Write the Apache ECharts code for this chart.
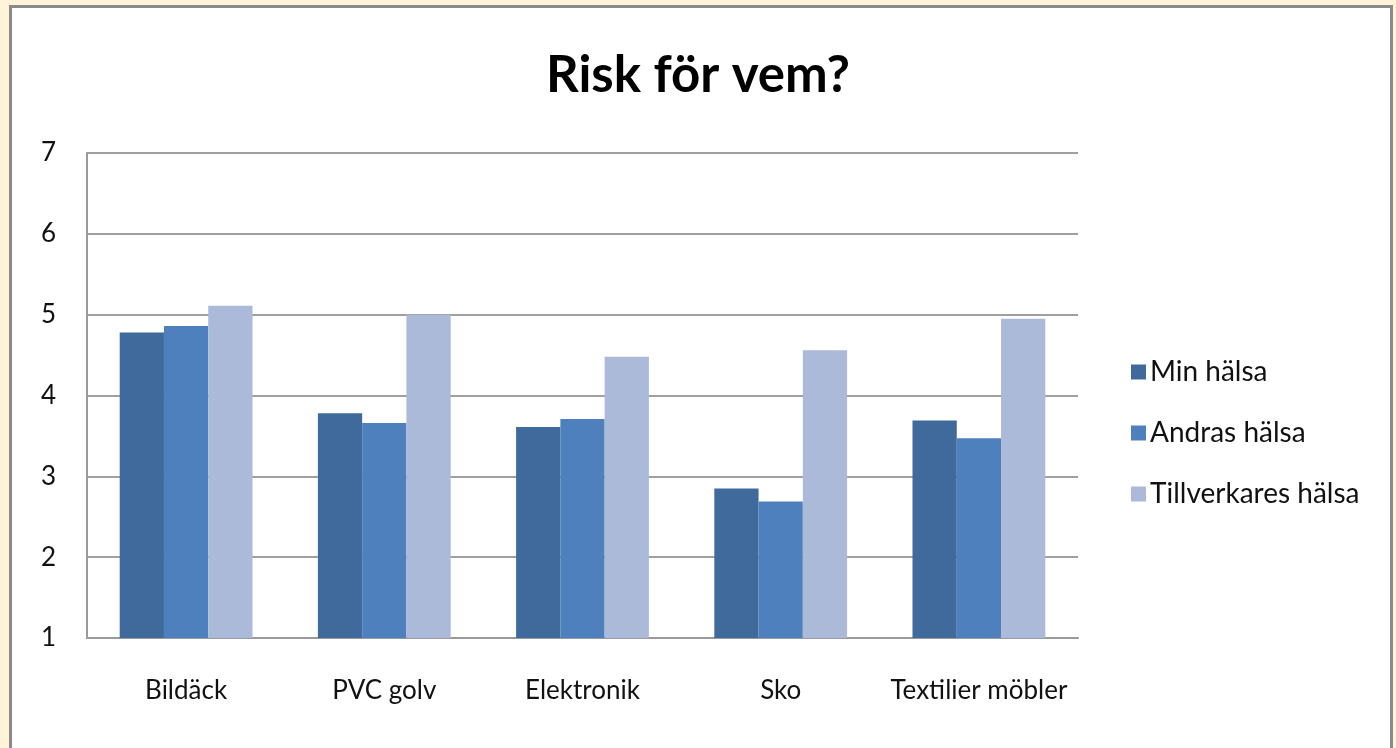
<!DOCTYPE html>
<html>
<head>
<meta charset="utf-8">
<script src="https://cdn.jsdelivr.net/npm/echarts@6/dist/echarts.min.js"></script>
<style>
  html, body { margin: 0; padding: 0; background: #fff4da; }
  .frame {
    position: absolute; left: 9px; top: 5px; width: 1378px; height: 780px;
    border: 3px solid #8a8a8a; background: #fff;
  }
  .chart { position: absolute; left: 0; top: 0; width: 1396px; height: 748px; }
</style>
</head>
<body>
<div class="frame"></div>
<div class="chart"></div>
<script>
var categories = ['Bildäck', 'PVC golv', 'Elektronik', 'Sko', 'Textilier möbler']
var minHalsa = [4.78, 3.78, 3.61, 2.85, 3.69]
var andrasHalsa = [4.86, 3.66, 3.71, 2.69, 3.47]
var tillverkaresHalsa = [5.11, 5.0, 4.48, 4.56, 4.95]
var yTicks = [1, 2, 3, 4, 5, 6, 7]

;(function () {
  var myChart = echarts.init(document.querySelector('.chart'))
  var font = 'Lato, "Open Sans", sans-serif'
  var option = {
    color: ['#3f6a9b', '#4d80bc', '#abbad8'],
    textStyle: { fontFamily: font },
    title: {
      text: 'Risk för vem?',
      left: 'center',
      top: 45,
      textStyle: { fontSize: 51, fontWeight: 'bold', color: '#000', fontFamily: font }
    },
    legend: {
      orient: 'vertical',
      left: 1126,
      top: 353,
      itemWidth: 15,
      itemHeight: 15,
      itemGap: 33,
      icon: 'rect',
      textStyle: { fontSize: 28, color: '#111', padding: [0, 0, 0, -1] },
      data: ['Min hälsa', 'Andras hälsa', 'Tillverkares hälsa']
    },
    grid: {
      left: 87,
      right: 318,
      top: 153,
      bottom: 110
    },
    xAxis: {
      type: 'category',
      data: categories,
      axisTick: { show: false },
      axisLine: { lineStyle: { color: '#9a9a9a', width: 2 } },
      axisLabel: { color: '#111', fontSize: 26, margin: 40, interval: 0 }
    },
    yAxis: {
      type: 'value',
      min: yTicks[0],
      max: yTicks[yTicks.length - 1],
      interval: 1,
      axisLine: { show: true, lineStyle: { color: '#9a9a9a', width: 2 } },
      axisTick: { show: false },
      axisLabel: { color: '#111', fontSize: 26, margin: 31 },
      splitLine: { lineStyle: { color: '#a0a0a0', width: 2 } }
    },
    series: [
      {
        name: 'Min hälsa',
        type: 'bar',
        data: minHalsa,
        barGap: 0,
        barCategoryGap: '33%'
      },
      {
        name: 'Andras hälsa',
        type: 'bar',
        data: andrasHalsa,
        barGap: 0,
        barCategoryGap: '33%'
      },
      {
        name: 'Tillverkares hälsa',
        type: 'bar',
        data: tillverkaresHalsa,
        barGap: 0,
        barCategoryGap: '33%'
      }
    ]
  }
  myChart.setOption(option)
  window.addEventListener('resize', function () {
    myChart.resize()
  })
})()
</script>
</body>
</html>
